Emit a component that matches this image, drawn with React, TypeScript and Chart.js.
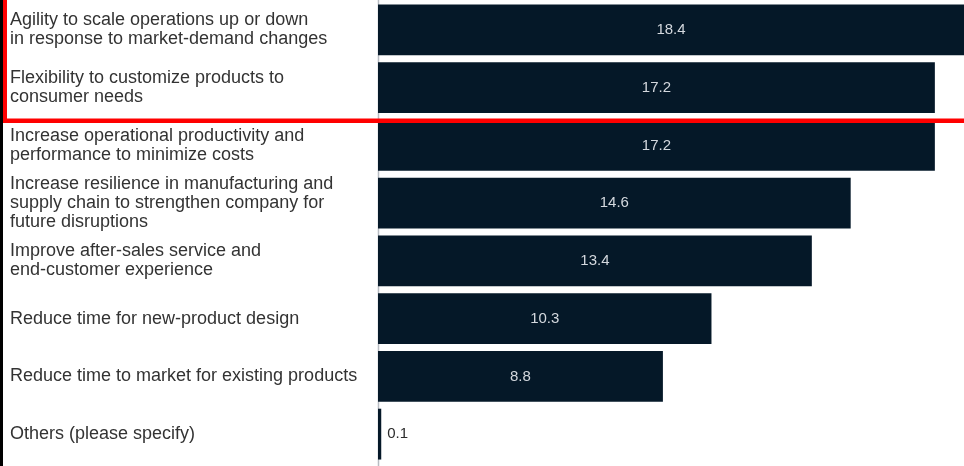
import React, { useEffect, useRef } from "react";
import { Chart, registerables } from "chart.js";

Chart.register(...registerables);

const categories: string[][] = [
  ["Agility to scale operations up or down", "in response to market-demand changes"],
  ["Flexibility to customize products to", "consumer needs"],
  ["Increase operational productivity and", "performance to minimize costs"],
  ["Increase resilience in manufacturing and", "supply chain to strengthen company for", "future disruptions"],
  ["Improve after-sales service and", "end-customer experience"],
  ["Reduce time for new-product design"],
  ["Reduce time to market for existing products"],
  ["Others (please specify)"],
];

const values: number[] = [18.4, 17.2, 17.2, 14.6, 13.4, 10.3, 8.8, 0.1];

const highlightedCount = 2;

const FONT = "'Liberation Sans', Arial, sans-serif";
const BAR_COLOR = "#051828";

const decorPlugin = {
  id: "decor",
  beforeDatasetsDraw(chart: any) {
    const { ctx, chartArea } = chart;
    ctx.save();
    ctx.strokeStyle = "#b8bcc2";
    ctx.lineWidth = 1.5;
    ctx.beginPath();
    ctx.moveTo(chartArea.left + 0.5, 0);
    ctx.lineTo(chartArea.left + 0.5, chart.height);
    ctx.stroke();
    ctx.restore();
  },
  afterDatasetsDraw(chart: any) {
    const { ctx, chartArea } = chart;
    const meta = chart.getDatasetMeta(0);
    ctx.save();
    ctx.font = `15px ${FONT}`;
    ctx.textBaseline = "middle";
    meta.data.forEach((bar: any, i: number) => {
      const { x, y, base } = bar.getProps(["x", "y", "base"], true);
      const right = Math.min(x, chartArea.right);
      const w = right - base;
      const txt = String(values[i]);
      if (w > 40) {
        ctx.fillStyle = "#d4d8de";
        ctx.textAlign = "center";
        ctx.fillText(txt, (base + right) / 2, y);
      } else {
        ctx.fillStyle = "#2b2b2b";
        ctx.textAlign = "left";
        ctx.fillText(txt, right + 6, y);
      }
    });
    ctx.restore();
  },
  afterDraw(chart: any) {
    const { ctx } = chart;
    const meta = chart.getDatasetMeta(0);
    ctx.save();
    ctx.fillStyle = "#000000";
    ctx.fillRect(0, 0, 3, chart.height);
    const last = meta.data[highlightedCount - 1];
    const next = meta.data[highlightedCount];
    const yBottom = (last.y + next.y) / 2 + 4;
    ctx.fillStyle = "#ff0000";
    ctx.fillRect(3, 0, 4, yBottom + 2);
    ctx.fillRect(3, yBottom - 2, chart.width - 3, 4.5);
    ctx.restore();
  },
};

export default function App() {
  const ref = useRef<HTMLCanvasElement | null>(null);
  useEffect(() => {
    if (!ref.current) return;
    const chart = new Chart(ref.current, {
      type: "bar",
      data: {
        labels: categories,
        datasets: [
          {
            data: values,
            backgroundColor: BAR_COLOR,
            borderWidth: 0,
            barPercentage: 0.88,
            categoryPercentage: 1,
          },
        ],
      },
      options: {
        indexAxis: "y",
        animation: false,
        responsive: false,
        layout: { padding: { left: 10, top: 1, bottom: 3, right: 0 } },
        plugins: {
          legend: { display: false },
          tooltip: { enabled: false },
        },
        scales: {
          x: {
            display: false,
            min: 0,
            max: 18.1,
            grid: { display: false },
          },
          y: {
            grid: { display: false, drawTicks: false },
            border: { display: false },
            ticks: {
              autoSkip: false,
              crossAlign: "far",
              color: "#333333",
              padding: 0,
              font: { family: FONT, size: 18, lineHeight: 1.07 },
            },
            afterFit(scale: any) {
              scale.width = 368;
              scale.paddingTop = 0;
              scale.paddingBottom = 0;
            },
          },
        },
      },
      plugins: [decorPlugin],
    });
    return () => chart.destroy();
  }, []);
  return (
    <div style={{ position: "absolute", left: 0, top: 0, width: 964, height: 466, background: "#fff" }}>
      <canvas ref={ref} width={964} height={466} style={{ display: "block" }} />
    </div>
  );
}
